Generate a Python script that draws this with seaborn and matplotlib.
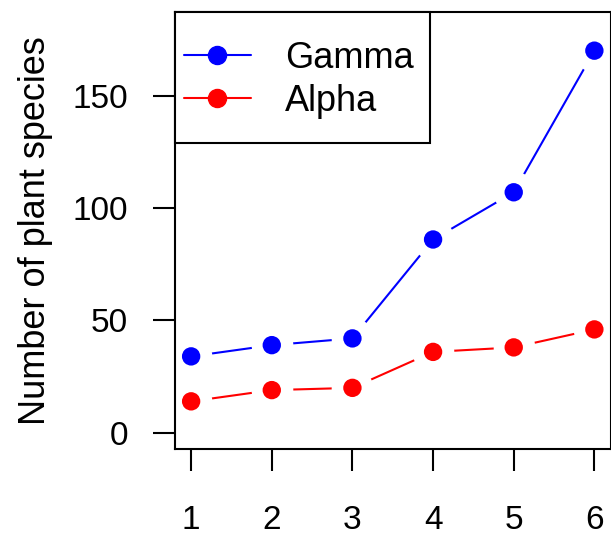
import numpy as np
import pandas as pd
import matplotlib
matplotlib.use("Agg")
import matplotlib.pyplot as plt
from matplotlib.lines import Line2D
from matplotlib.patches import Rectangle
import seaborn as sns

# ---- data ----
sites = [1, 2, 3, 4, 5, 6]
gamma = [34, 39, 42, 86, 107, 170]
alpha = [14, 19, 20, 36, 38, 46]
series_names = ["Gamma", "Alpha"]
series_colors = ["blue", "red"]
x_ticks = [1, 2, 3, 4, 5, 6]
y_ticks = [0, 50, 100, 150]
y_label = "Number of plant species"

df = pd.DataFrame({
    "site": sites * 2,
    "value": gamma + alpha,
    "series": ["Gamma"] * len(sites) + ["Alpha"] * len(sites),
})
palette = dict(zip(series_names, series_colors))

sns.set_style("ticks")
plt.rcParams["font.family"] = ["Liberation Sans", "DejaVu Sans"]
plt.rcParams["text.color"] = "black"
plt.rcParams["axes.labelcolor"] = "black"
plt.rcParams["xtick.color"] = "black"
plt.rcParams["ytick.color"] = "black"
plt.rcParams["xtick.labelcolor"] = "black"
plt.rcParams["ytick.labelcolor"] = "black"

W, H = 611, 535
fig = plt.figure(figsize=(W / 100, H / 100), dpi=100)
ax = fig.add_axes([175 / W, (H - 449) / H, 435.5 / W, 437 / H])

sns.lineplot(data=df, x="site", y="value", hue="series", palette=palette,
             linewidth=1.5, legend=False, ax=ax, zorder=1)
# white halo to create the R type="b" gaps
sns.scatterplot(data=df, x="site", y="value", color="white", s=900,
                linewidth=0, legend=False, ax=ax, zorder=1.5)
sns.scatterplot(data=df, x="site", y="value", hue="series", palette=palette,
                s=175, linewidth=0, legend=False, ax=ax, zorder=2)

ax.set_xlim(0.8, 6.2)
ax.set_ylim(-7.2, 187.2)
ax.set_xticks(x_ticks)
ax.set_yticks(y_ticks)
ax.set_xticklabels([str(v) for v in x_ticks])
ax.set_yticklabels([str(v) for v in y_ticks])
ax.set_xlabel("")
ax.set_ylabel(y_label, fontsize=26, labelpad=14, color="black")

for s in ax.spines.values():
    s.set_visible(True)
    s.set_linewidth(1.5)
    s.set_color("black")
    s.set_zorder(3)

ax.tick_params(axis="both", labelsize=24, length=16, width=1.5,
               direction="out", color="black", labelcolor="black")
ax.tick_params(axis="x", pad=24)
ax.tick_params(axis="y", pad=18)

# legend box
box_w = (430 - 175) / 435.5
box_h = (143 - 12) / 437
ax.add_patch(Rectangle((0, 1 - box_h), box_w, box_h, transform=ax.transAxes,
                       facecolor="white", edgecolor="black", linewidth=1.5,
                       zorder=4, clip_on=False))

handles = [Line2D([], [], color=c, marker="o", markersize=13, linewidth=1.5)
           for c in series_colors]
leg = ax.legend(handles, series_names, loc="upper left",
                bbox_to_anchor=(184 / W, 1 - 41 / H),
                bbox_transform=fig.transFigure, frameon=False, fontsize=26,
                borderpad=0, handlelength=1.85, handletextpad=0.95,
                labelspacing=0.22, borderaxespad=0)
for t in leg.get_texts():
    t.set_color("black")
leg.set_zorder(5)

fig.savefig("out.png", dpi=100)
